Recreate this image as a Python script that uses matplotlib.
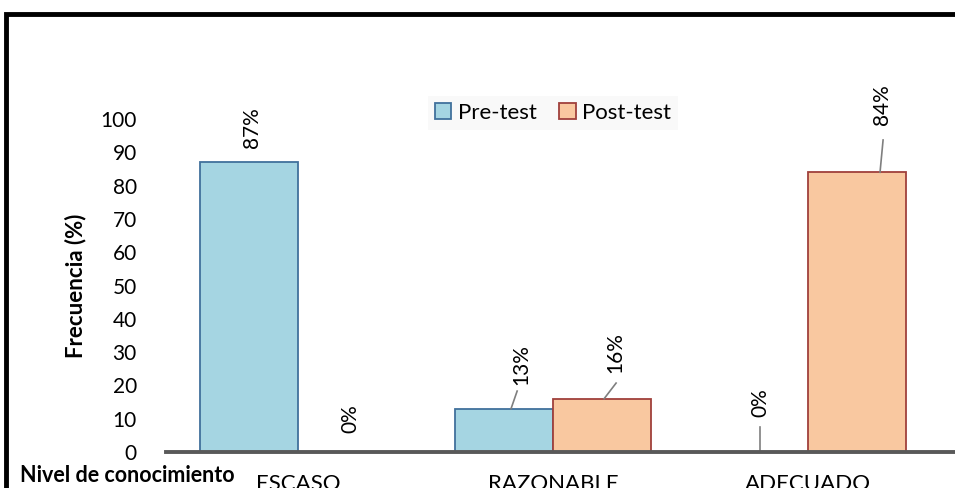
import matplotlib.pyplot as plt
from matplotlib.patches import Rectangle
import numpy as np

plt.rcParams['font.family'] = ['Lato', 'DejaVu Sans']

# datos
categorias = ['ESCASO', 'RAZONABLE', 'ADECUADO']
pre_test = [87, 13, 0]
post_test = [0, 16, 84]
etiquetas_pre = ['87%', '13%', '0%']
etiquetas_post = ['0%', '16%', '84%']

color_pre, borde_pre = '#a5d5e2', '#41719c'
color_post, borde_post = '#f9c8a0', '#a0403c'

fig = plt.figure(figsize=(9.55, 4.88), dpi=100)
ax = fig.add_axes([166 / 955, 36 / 488, 789 / 955, 333 / 488])

x = np.arange(len(categorias))
w = 0.385
ax.bar(x - w / 2, pre_test, w, color=color_pre, edgecolor=borde_pre, linewidth=1.3, label='Pre-test')
ax.bar(x + w / 2, post_test, w, color=color_post, edgecolor=borde_post, linewidth=1.3, label='Post-test')

ax.set_xlim(-0.518, 2.576)
ax.set_ylim(0, 100)
ax.set_yticks(range(0, 101, 10))
ax.set_xticks(x)
ax.set_xticklabels(categorias, fontsize=16)
ax.tick_params(axis='y', length=0, pad=21, labelsize=15)
ax.tick_params(axis='x', length=0, pad=16)
for s in ['top', 'right', 'left']:
    ax.spines[s].set_visible(False)
ax.spines['bottom'].set_color('#595959')
ax.spines['bottom'].set_linewidth(2.8)

ax.set_ylabel('Frecuencia (%)', fontsize=16, fontweight='bold', labelpad=10)

# etiquetas de valor (posición ajustada a mano) y líneas guía
kw = dict(rotation=90, ha='center', va='bottom', fontsize=15, clip_on=False)
ax.text(-0.18, 91.3, etiquetas_pre[0], **kw)
ax.text(0.204, 5.7, etiquetas_post[0], **kw)
ax.text(0.875, 20.1, etiquetas_pre[1], **kw)
ax.text(1.243, 23.7, etiquetas_post[1], **kw)
ax.text(1.812, 10.5, etiquetas_pre[2], **kw)
ax.text(2.29, 98.2, etiquetas_post[2], **kw)

guia = dict(color='#7f7f7f', lw=1.2, clip_on=False)
ax.plot([0.859, 0.835], [18.3, pre_test[1]], **guia)
ax.plot([1.247, 1.20], [20.7, post_test[1]], **guia)
ax.plot([1.812, 1.812], [7.5, pre_test[2]], **guia)
ax.plot([2.294, 2.282], [93.7, post_test[2]], **guia)

leg = ax.legend(loc='center', bbox_to_anchor=(553 / 955, 375 / 488), bbox_transform=fig.transFigure,
                ncol=2, frameon=True, fontsize=16, handlelength=0.75, handleheight=0.75,
                handletextpad=0.3, columnspacing=1.0, borderpad=0.3, fancybox=False)
leg.get_frame().set_facecolor('#f8f8f8')
leg.get_frame().set_edgecolor('none')

fig.text(20 / 955, 6 / 488, 'Nivel de conocimiento', fontsize=15.5, fontweight='bold', ha='left', va='baseline')

# marco exterior
fig.patches.append(Rectangle((6 / 955, -0.05), 1.1, (488 - 14) / 488 + 0.05, transform=fig.transFigure,
                             fill=False, edgecolor='black', linewidth=3.5))

fig.savefig('out.png', dpi=100)
